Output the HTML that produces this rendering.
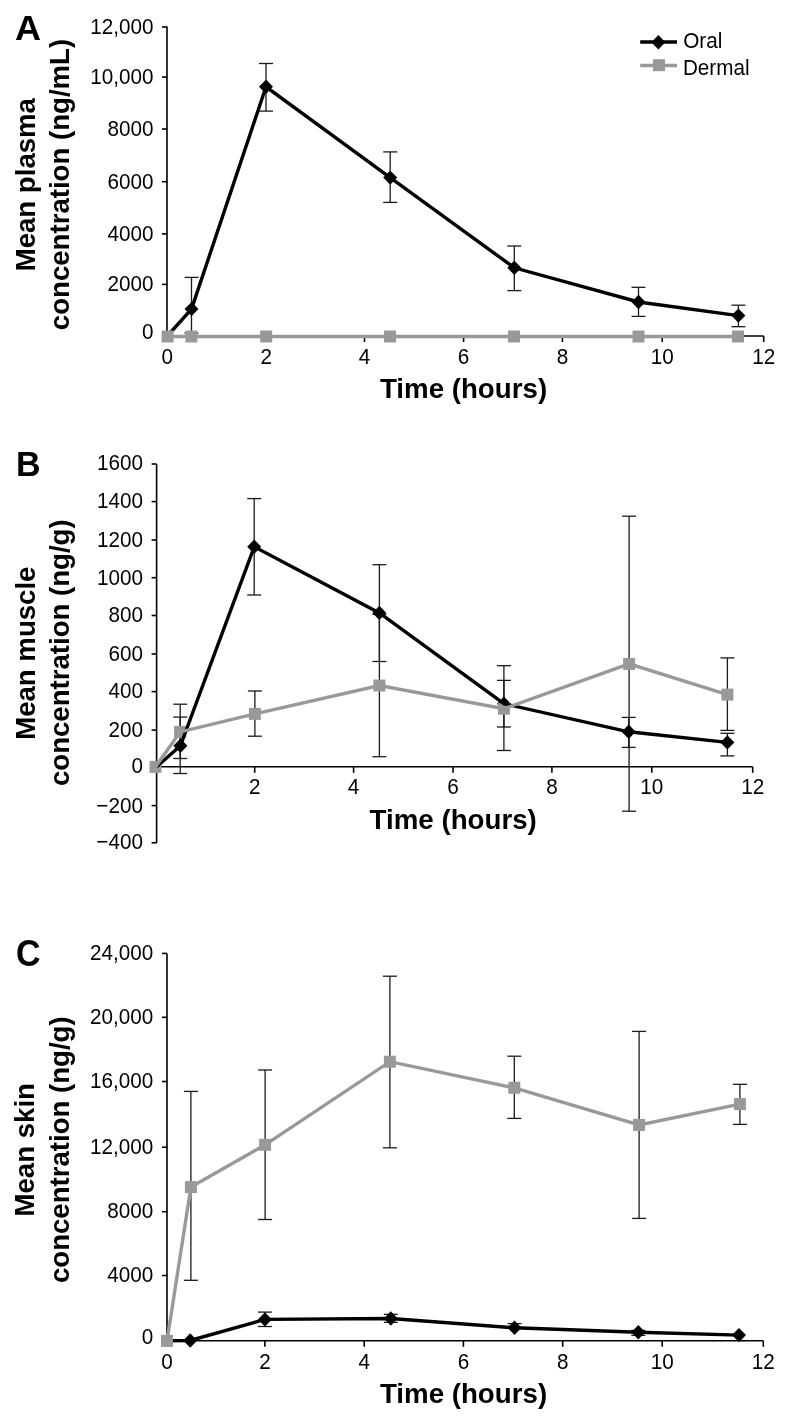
<!DOCTYPE html>
<html><head><meta charset="utf-8"><style>
html,body{margin:0;padding:0;background:#fff;width:789px;height:1424px;overflow:hidden;}
svg{display:block;font-family:"Liberation Sans",sans-serif;will-change:transform;}
</style></head><body>
<svg width="789" height="1424" viewBox="0 0 789 1424">
<rect width="789" height="1424" fill="#fff"/>
<line x1="167" y1="26.5" x2="167" y2="336" stroke="#000" stroke-width="1.6" stroke-linecap="butt"/>
<line x1="162" y1="27" x2="167" y2="27" stroke="#000" stroke-width="1.6" stroke-linecap="butt"/>
<text transform="translate(153.6,33.6) scale(1,1.085)" font-size="20.7" text-anchor="end">12,000</text>
<line x1="162" y1="77.1" x2="167" y2="77.1" stroke="#000" stroke-width="1.6" stroke-linecap="butt"/>
<text transform="translate(153.6,83.6) scale(1,1.085)" font-size="20.7" text-anchor="end">10,000</text>
<line x1="162" y1="129" x2="167" y2="129" stroke="#000" stroke-width="1.6" stroke-linecap="butt"/>
<text transform="translate(153.6,135.8) scale(1,1.085)" font-size="20.7" text-anchor="end">8000</text>
<line x1="162" y1="181.7" x2="167" y2="181.7" stroke="#000" stroke-width="1.6" stroke-linecap="butt"/>
<text transform="translate(153.6,188.5) scale(1,1.085)" font-size="20.7" text-anchor="end">6000</text>
<line x1="162" y1="233.9" x2="167" y2="233.9" stroke="#000" stroke-width="1.6" stroke-linecap="butt"/>
<text transform="translate(153.6,240.7) scale(1,1.085)" font-size="20.7" text-anchor="end">4000</text>
<line x1="162" y1="284.4" x2="167" y2="284.4" stroke="#000" stroke-width="1.6" stroke-linecap="butt"/>
<text transform="translate(153.6,291) scale(1,1.085)" font-size="20.7" text-anchor="end">2000</text>
<text transform="translate(153.6,339.3) scale(1,1.085)" font-size="20.7" text-anchor="end">0</text>
<line x1="167" y1="336" x2="763.7" y2="336" stroke="#000" stroke-width="1.6" stroke-linecap="butt"/>
<text transform="translate(167.3,363.8) scale(1,1.085)" font-size="20.7" text-anchor="middle">0</text>
<line x1="266.2" y1="336" x2="266.2" y2="342" stroke="#000" stroke-width="1.6" stroke-linecap="butt"/>
<text transform="translate(266.2,363.8) scale(1,1.085)" font-size="20.7" text-anchor="middle">2</text>
<line x1="364.5" y1="336" x2="364.5" y2="342" stroke="#000" stroke-width="1.6" stroke-linecap="butt"/>
<text transform="translate(364.5,363.8) scale(1,1.085)" font-size="20.7" text-anchor="middle">4</text>
<line x1="463.6" y1="336" x2="463.6" y2="342" stroke="#000" stroke-width="1.6" stroke-linecap="butt"/>
<text transform="translate(463.6,363.8) scale(1,1.085)" font-size="20.7" text-anchor="middle">6</text>
<line x1="562.4" y1="336" x2="562.4" y2="342" stroke="#000" stroke-width="1.6" stroke-linecap="butt"/>
<text transform="translate(562.4,363.8) scale(1,1.085)" font-size="20.7" text-anchor="middle">8</text>
<line x1="662.2" y1="336" x2="662.2" y2="342" stroke="#000" stroke-width="1.6" stroke-linecap="butt"/>
<text transform="translate(662.2,363.8) scale(1,1.085)" font-size="20.7" text-anchor="middle">10</text>
<line x1="763.7" y1="336" x2="763.7" y2="342" stroke="#000" stroke-width="1.6" stroke-linecap="butt"/>
<text transform="translate(763.7,363.8) scale(1,1.085)" font-size="20.7" text-anchor="middle">12</text>
<line x1="191.5" y1="277.4" x2="191.5" y2="333.2" stroke="#1a1a1a" stroke-width="1.3" stroke-linecap="butt"/>
<line x1="184.5" y1="277.4" x2="198.5" y2="277.4" stroke="#1a1a1a" stroke-width="1.3" stroke-linecap="butt"/>
<line x1="184.5" y1="333.2" x2="198.5" y2="333.2" stroke="#1a1a1a" stroke-width="1.3" stroke-linecap="butt"/>
<line x1="266" y1="63.5" x2="266" y2="111.1" stroke="#1a1a1a" stroke-width="1.3" stroke-linecap="butt"/>
<line x1="259.0" y1="63.5" x2="273.0" y2="63.5" stroke="#1a1a1a" stroke-width="1.3" stroke-linecap="butt"/>
<line x1="259.0" y1="111.1" x2="273.0" y2="111.1" stroke="#1a1a1a" stroke-width="1.3" stroke-linecap="butt"/>
<line x1="390.2" y1="151.9" x2="390.2" y2="202.4" stroke="#1a1a1a" stroke-width="1.3" stroke-linecap="butt"/>
<line x1="383.2" y1="151.9" x2="397.2" y2="151.9" stroke="#1a1a1a" stroke-width="1.3" stroke-linecap="butt"/>
<line x1="383.2" y1="202.4" x2="397.2" y2="202.4" stroke="#1a1a1a" stroke-width="1.3" stroke-linecap="butt"/>
<line x1="514.3" y1="246" x2="514.3" y2="290.6" stroke="#1a1a1a" stroke-width="1.3" stroke-linecap="butt"/>
<line x1="507.29999999999995" y1="246" x2="521.3" y2="246" stroke="#1a1a1a" stroke-width="1.3" stroke-linecap="butt"/>
<line x1="507.29999999999995" y1="290.6" x2="521.3" y2="290.6" stroke="#1a1a1a" stroke-width="1.3" stroke-linecap="butt"/>
<line x1="638.5" y1="287.3" x2="638.5" y2="316.4" stroke="#1a1a1a" stroke-width="1.3" stroke-linecap="butt"/>
<line x1="631.5" y1="287.3" x2="645.5" y2="287.3" stroke="#1a1a1a" stroke-width="1.3" stroke-linecap="butt"/>
<line x1="631.5" y1="316.4" x2="645.5" y2="316.4" stroke="#1a1a1a" stroke-width="1.3" stroke-linecap="butt"/>
<line x1="738.4" y1="305.2" x2="738.4" y2="326.7" stroke="#1a1a1a" stroke-width="1.3" stroke-linecap="butt"/>
<line x1="731.4" y1="305.2" x2="745.4" y2="305.2" stroke="#1a1a1a" stroke-width="1.3" stroke-linecap="butt"/>
<line x1="731.4" y1="326.7" x2="745.4" y2="326.7" stroke="#1a1a1a" stroke-width="1.3" stroke-linecap="butt"/>
<polyline points="167.3,336 191.5,309.1 266,86.8 390.2,177.6 514.3,267.8 638.5,302 738.4,315.6" fill="none" stroke="#000" stroke-width="3.4" stroke-linejoin="miter" stroke-miterlimit="2"/>
<polyline points="167.6,336.5 191.4,336.5 266.2,336.5 390,336.5 514,336.5 638.5,336.5 738,336.5" fill="none" stroke="#999" stroke-width="3.4" stroke-linejoin="miter" stroke-miterlimit="2"/>
<path d="M184.5,309.1L191.5,301.90000000000003L198.5,309.1L191.5,316.3Z" fill="#000"/>
<path d="M259.0,86.8L266,79.6L273.0,86.8L266,94.0Z" fill="#000"/>
<path d="M383.2,177.6L390.2,170.4L397.2,177.6L390.2,184.79999999999998Z" fill="#000"/>
<path d="M507.29999999999995,267.8L514.3,260.6L521.3,267.8L514.3,275.0Z" fill="#000"/>
<path d="M631.5,302L638.5,294.8L645.5,302L638.5,309.2Z" fill="#000"/>
<path d="M731.4,315.6L738.4,308.40000000000003L745.4,315.6L738.4,322.8Z" fill="#000"/>
<rect x="161.60" y="330.50" width="12" height="12" fill="#999"/>
<rect x="185.40" y="330.50" width="12" height="12" fill="#999"/>
<rect x="260.20" y="330.50" width="12" height="12" fill="#999"/>
<rect x="384.00" y="330.50" width="12" height="12" fill="#999"/>
<rect x="508.00" y="330.50" width="12" height="12" fill="#999"/>
<rect x="632.50" y="330.50" width="12" height="12" fill="#999"/>
<rect x="732.00" y="330.50" width="12" height="12" fill="#999"/>
<text transform="translate(34.5,184.7) rotate(-90)" font-size="27.6" font-weight="bold" text-anchor="middle">Mean plasma</text>
<text transform="translate(68.8,184.5) rotate(-90)" font-size="27.6" font-weight="bold" text-anchor="middle">concentration (ng/mL)</text>
<text transform="translate(463.5,398) scale(1,1.01)" font-size="27.7" text-anchor="middle" font-weight="bold">Time (hours)</text>
<text transform="translate(15.0,39.5) scale(1,0.975)" font-size="36" text-anchor="start" font-weight="bold">A</text>
<line x1="156.6" y1="464" x2="156.6" y2="843" stroke="#000" stroke-width="1.6" stroke-linecap="butt"/>
<line x1="151.6" y1="464" x2="156.6" y2="464" stroke="#000" stroke-width="1.6" stroke-linecap="butt"/>
<text transform="translate(142.9,470.0) scale(1,1.085)" font-size="20.7" text-anchor="end">1600</text>
<line x1="151.6" y1="501.6" x2="156.6" y2="501.6" stroke="#000" stroke-width="1.6" stroke-linecap="butt"/>
<text transform="translate(142.9,508.4) scale(1,1.085)" font-size="20.7" text-anchor="end">1400</text>
<line x1="151.6" y1="540" x2="156.6" y2="540" stroke="#000" stroke-width="1.6" stroke-linecap="butt"/>
<text transform="translate(142.9,546.8) scale(1,1.085)" font-size="20.7" text-anchor="end">1200</text>
<line x1="151.6" y1="577.7" x2="156.6" y2="577.7" stroke="#000" stroke-width="1.6" stroke-linecap="butt"/>
<text transform="translate(142.9,584.5) scale(1,1.085)" font-size="20.7" text-anchor="end">1000</text>
<line x1="151.6" y1="615.5" x2="156.6" y2="615.5" stroke="#000" stroke-width="1.6" stroke-linecap="butt"/>
<text transform="translate(142.9,622.3) scale(1,1.085)" font-size="20.7" text-anchor="end">800</text>
<line x1="151.6" y1="654" x2="156.6" y2="654" stroke="#000" stroke-width="1.6" stroke-linecap="butt"/>
<text transform="translate(142.9,660.8) scale(1,1.085)" font-size="20.7" text-anchor="end">600</text>
<line x1="151.6" y1="691.6" x2="156.6" y2="691.6" stroke="#000" stroke-width="1.6" stroke-linecap="butt"/>
<text transform="translate(142.9,698.4) scale(1,1.085)" font-size="20.7" text-anchor="end">400</text>
<line x1="151.6" y1="730.1" x2="156.6" y2="730.1" stroke="#000" stroke-width="1.6" stroke-linecap="butt"/>
<text transform="translate(142.9,736.9) scale(1,1.085)" font-size="20.7" text-anchor="end">200</text>
<line x1="151.6" y1="766.8" x2="156.6" y2="766.8" stroke="#000" stroke-width="1.6" stroke-linecap="butt"/>
<text transform="translate(142.9,772.8) scale(1,1.085)" font-size="20.7" text-anchor="end">0</text>
<line x1="151.6" y1="805.6" x2="156.6" y2="805.6" stroke="#000" stroke-width="1.6" stroke-linecap="butt"/>
<text transform="translate(142.9,812.7) scale(1,1.085)" font-size="20.7" text-anchor="end">−200</text>
<line x1="151.6" y1="842.8" x2="156.6" y2="842.8" stroke="#000" stroke-width="1.6" stroke-linecap="butt"/>
<text transform="translate(142.9,848.5) scale(1,1.085)" font-size="20.7" text-anchor="end">−400</text>
<line x1="156.6" y1="766.8" x2="752.7" y2="766.8" stroke="#000" stroke-width="1.6" stroke-linecap="butt"/>
<line x1="254.7" y1="766.8" x2="254.7" y2="772.8" stroke="#000" stroke-width="1.6" stroke-linecap="butt"/>
<text transform="translate(254.7,793.8) scale(1,1.085)" font-size="20.7" text-anchor="middle">2</text>
<line x1="353.6" y1="766.8" x2="353.6" y2="772.8" stroke="#000" stroke-width="1.6" stroke-linecap="butt"/>
<text transform="translate(353.6,793.8) scale(1,1.085)" font-size="20.7" text-anchor="middle">4</text>
<line x1="453" y1="766.8" x2="453" y2="772.8" stroke="#000" stroke-width="1.6" stroke-linecap="butt"/>
<text transform="translate(453,793.8) scale(1,1.085)" font-size="20.7" text-anchor="middle">6</text>
<line x1="551.9" y1="766.8" x2="551.9" y2="772.8" stroke="#000" stroke-width="1.6" stroke-linecap="butt"/>
<text transform="translate(551.9,793.8) scale(1,1.085)" font-size="20.7" text-anchor="middle">8</text>
<line x1="651.8" y1="766.8" x2="651.8" y2="772.8" stroke="#000" stroke-width="1.6" stroke-linecap="butt"/>
<text transform="translate(651.8,793.8) scale(1,1.085)" font-size="20.7" text-anchor="middle">10</text>
<line x1="752.7" y1="766.8" x2="752.7" y2="772.8" stroke="#000" stroke-width="1.6" stroke-linecap="butt"/>
<text transform="translate(752.7,793.8) scale(1,1.085)" font-size="20.7" text-anchor="middle">12</text>
<line x1="180.2" y1="717.1" x2="180.2" y2="773.5" stroke="#1a1a1a" stroke-width="1.3" stroke-linecap="butt"/>
<line x1="173.2" y1="717.1" x2="187.2" y2="717.1" stroke="#1a1a1a" stroke-width="1.3" stroke-linecap="butt"/>
<line x1="173.2" y1="773.5" x2="187.2" y2="773.5" stroke="#1a1a1a" stroke-width="1.3" stroke-linecap="butt"/>
<line x1="254.2" y1="498.6" x2="254.2" y2="595" stroke="#1a1a1a" stroke-width="1.3" stroke-linecap="butt"/>
<line x1="247.2" y1="498.6" x2="261.2" y2="498.6" stroke="#1a1a1a" stroke-width="1.3" stroke-linecap="butt"/>
<line x1="247.2" y1="595" x2="261.2" y2="595" stroke="#1a1a1a" stroke-width="1.3" stroke-linecap="butt"/>
<line x1="379.4" y1="564.7" x2="379.4" y2="661.5" stroke="#1a1a1a" stroke-width="1.3" stroke-linecap="butt"/>
<line x1="372.4" y1="564.7" x2="386.4" y2="564.7" stroke="#1a1a1a" stroke-width="1.3" stroke-linecap="butt"/>
<line x1="372.4" y1="661.5" x2="386.4" y2="661.5" stroke="#1a1a1a" stroke-width="1.3" stroke-linecap="butt"/>
<line x1="503.9" y1="680.4" x2="503.9" y2="727" stroke="#1a1a1a" stroke-width="1.3" stroke-linecap="butt"/>
<line x1="496.9" y1="680.4" x2="510.9" y2="680.4" stroke="#1a1a1a" stroke-width="1.3" stroke-linecap="butt"/>
<line x1="496.9" y1="727" x2="510.9" y2="727" stroke="#1a1a1a" stroke-width="1.3" stroke-linecap="butt"/>
<line x1="628.7" y1="717.4" x2="628.7" y2="747.4" stroke="#1a1a1a" stroke-width="1.3" stroke-linecap="butt"/>
<line x1="621.7" y1="717.4" x2="635.7" y2="717.4" stroke="#1a1a1a" stroke-width="1.3" stroke-linecap="butt"/>
<line x1="621.7" y1="747.4" x2="635.7" y2="747.4" stroke="#1a1a1a" stroke-width="1.3" stroke-linecap="butt"/>
<line x1="727.4" y1="733.3" x2="727.4" y2="755.9" stroke="#1a1a1a" stroke-width="1.3" stroke-linecap="butt"/>
<line x1="720.4" y1="733.3" x2="734.4" y2="733.3" stroke="#1a1a1a" stroke-width="1.3" stroke-linecap="butt"/>
<line x1="720.4" y1="755.9" x2="734.4" y2="755.9" stroke="#1a1a1a" stroke-width="1.3" stroke-linecap="butt"/>
<line x1="180.2" y1="704.2" x2="180.2" y2="758.5" stroke="#1a1a1a" stroke-width="1.3" stroke-linecap="butt"/>
<line x1="173.2" y1="704.2" x2="187.2" y2="704.2" stroke="#1a1a1a" stroke-width="1.3" stroke-linecap="butt"/>
<line x1="173.2" y1="758.5" x2="187.2" y2="758.5" stroke="#1a1a1a" stroke-width="1.3" stroke-linecap="butt"/>
<line x1="254.9" y1="691" x2="254.9" y2="736.2" stroke="#1a1a1a" stroke-width="1.3" stroke-linecap="butt"/>
<line x1="247.9" y1="691" x2="261.9" y2="691" stroke="#1a1a1a" stroke-width="1.3" stroke-linecap="butt"/>
<line x1="247.9" y1="736.2" x2="261.9" y2="736.2" stroke="#1a1a1a" stroke-width="1.3" stroke-linecap="butt"/>
<line x1="379.4" y1="614.3" x2="379.4" y2="756.7" stroke="#1a1a1a" stroke-width="1.3" stroke-linecap="butt"/>
<line x1="372.4" y1="614.3" x2="386.4" y2="614.3" stroke="#1a1a1a" stroke-width="1.3" stroke-linecap="butt"/>
<line x1="372.4" y1="756.7" x2="386.4" y2="756.7" stroke="#1a1a1a" stroke-width="1.3" stroke-linecap="butt"/>
<line x1="503.9" y1="665.7" x2="503.9" y2="750.5" stroke="#1a1a1a" stroke-width="1.3" stroke-linecap="butt"/>
<line x1="496.9" y1="665.7" x2="510.9" y2="665.7" stroke="#1a1a1a" stroke-width="1.3" stroke-linecap="butt"/>
<line x1="496.9" y1="750.5" x2="510.9" y2="750.5" stroke="#1a1a1a" stroke-width="1.3" stroke-linecap="butt"/>
<line x1="629.1" y1="516.2" x2="629.1" y2="811.2" stroke="#1a1a1a" stroke-width="1.3" stroke-linecap="butt"/>
<line x1="622.1" y1="516.2" x2="636.1" y2="516.2" stroke="#1a1a1a" stroke-width="1.3" stroke-linecap="butt"/>
<line x1="622.1" y1="811.2" x2="636.1" y2="811.2" stroke="#1a1a1a" stroke-width="1.3" stroke-linecap="butt"/>
<line x1="727.4" y1="657.9" x2="727.4" y2="730.4" stroke="#1a1a1a" stroke-width="1.3" stroke-linecap="butt"/>
<line x1="720.4" y1="657.9" x2="734.4" y2="657.9" stroke="#1a1a1a" stroke-width="1.3" stroke-linecap="butt"/>
<line x1="720.4" y1="730.4" x2="734.4" y2="730.4" stroke="#1a1a1a" stroke-width="1.3" stroke-linecap="butt"/>
<path d="M173.4,745.8L180.4,738.5999999999999L187.4,745.8L180.4,753.0Z" fill="#000"/>
<path d="M247.2,546.8L254.2,539.5999999999999L261.2,546.8L254.2,554.0Z" fill="#000"/>
<path d="M372.4,612.9L379.4,605.6999999999999L386.4,612.9L379.4,620.1Z" fill="#000"/>
<path d="M496.9,703.7L503.9,696.5L510.9,703.7L503.9,710.9000000000001Z" fill="#000"/>
<path d="M621.7,731.8L628.7,724.5999999999999L635.7,731.8L628.7,739.0Z" fill="#000"/>
<path d="M720.4,742.4L727.4,735.1999999999999L734.4,742.4L727.4,749.6Z" fill="#000"/>
<rect x="149.50" y="760.90" width="12" height="12" fill="#999"/>
<rect x="174.10" y="725.90" width="12" height="12" fill="#999"/>
<rect x="248.90" y="707.90" width="12" height="12" fill="#999"/>
<rect x="373.40" y="679.50" width="12" height="12" fill="#999"/>
<rect x="497.90" y="702.70" width="12" height="12" fill="#999"/>
<rect x="623.10" y="657.90" width="12" height="12" fill="#999"/>
<rect x="721.40" y="688.60" width="12" height="12" fill="#999"/>
<polyline points="156.6,766.8 180.4,745.8 254.2,546.8 379.4,612.9 503.9,703.7 628.7,731.8 727.4,742.4" fill="none" stroke="#000" stroke-width="3.4" stroke-linejoin="miter" stroke-miterlimit="2"/>
<polyline points="155.5,766.9 180.1,731.9 254.9,713.9 379.4,685.5 503.9,708.7 629.1,663.9 727.4,694.6" fill="none" stroke="#999" stroke-width="3.4" stroke-linejoin="miter" stroke-miterlimit="2"/>
<text transform="translate(34.5,653.2) rotate(-90)" font-size="27.6" font-weight="bold" text-anchor="middle">Mean muscle</text>
<text transform="translate(68.9,652.7) rotate(-90)" font-size="27.6" font-weight="bold" text-anchor="middle">concentration (ng/g)</text>
<text transform="translate(453.2,828.5) scale(1,1.01)" font-size="27.7" text-anchor="middle" font-weight="bold">Time (hours)</text>
<text transform="translate(16,476) scale(1,1.055)" font-size="34" text-anchor="start" font-weight="bold">B</text>
<line x1="167" y1="953.4" x2="167" y2="1340.8" stroke="#000" stroke-width="1.6" stroke-linecap="butt"/>
<line x1="162" y1="953.4" x2="167" y2="953.4" stroke="#000" stroke-width="1.6" stroke-linecap="butt"/>
<text transform="translate(153.2,959.9) scale(1,1.085)" font-size="20.7" text-anchor="end">24,000</text>
<line x1="162" y1="1017.3" x2="167" y2="1017.3" stroke="#000" stroke-width="1.6" stroke-linecap="butt"/>
<text transform="translate(153.2,1024) scale(1,1.085)" font-size="20.7" text-anchor="end">20,000</text>
<line x1="162" y1="1081.5" x2="167" y2="1081.5" stroke="#000" stroke-width="1.6" stroke-linecap="butt"/>
<text transform="translate(153.2,1088.0) scale(1,1.085)" font-size="20.7" text-anchor="end">16,000</text>
<line x1="162" y1="1147.2" x2="167" y2="1147.2" stroke="#000" stroke-width="1.6" stroke-linecap="butt"/>
<text transform="translate(153.2,1153.9) scale(1,1.085)" font-size="20.7" text-anchor="end">12,000</text>
<line x1="162" y1="1211.7" x2="167" y2="1211.7" stroke="#000" stroke-width="1.6" stroke-linecap="butt"/>
<text transform="translate(153.2,1218.4) scale(1,1.085)" font-size="20.7" text-anchor="end">8000</text>
<line x1="162" y1="1275.5" x2="167" y2="1275.5" stroke="#000" stroke-width="1.6" stroke-linecap="butt"/>
<text transform="translate(153.2,1282) scale(1,1.085)" font-size="20.7" text-anchor="end">4000</text>
<text transform="translate(153.2,1344) scale(1,1.085)" font-size="20.7" text-anchor="end">0</text>
<line x1="167" y1="1340.8" x2="763.3" y2="1340.8" stroke="#000" stroke-width="1.6" stroke-linecap="butt"/>
<text transform="translate(167,1368.6) scale(1,1.085)" font-size="20.7" text-anchor="middle">0</text>
<line x1="264.9" y1="1340.8" x2="264.9" y2="1346.8" stroke="#000" stroke-width="1.6" stroke-linecap="butt"/>
<text transform="translate(264.9,1368.6) scale(1,1.085)" font-size="20.7" text-anchor="middle">2</text>
<line x1="364.2" y1="1340.8" x2="364.2" y2="1346.8" stroke="#000" stroke-width="1.6" stroke-linecap="butt"/>
<text transform="translate(364.2,1368.6) scale(1,1.085)" font-size="20.7" text-anchor="middle">4</text>
<line x1="463.4" y1="1340.8" x2="463.4" y2="1346.8" stroke="#000" stroke-width="1.6" stroke-linecap="butt"/>
<text transform="translate(463.4,1368.6) scale(1,1.085)" font-size="20.7" text-anchor="middle">6</text>
<line x1="562.7" y1="1340.8" x2="562.7" y2="1346.8" stroke="#000" stroke-width="1.6" stroke-linecap="butt"/>
<text transform="translate(562.7,1368.6) scale(1,1.085)" font-size="20.7" text-anchor="middle">8</text>
<line x1="662.2" y1="1340.8" x2="662.2" y2="1346.8" stroke="#000" stroke-width="1.6" stroke-linecap="butt"/>
<text transform="translate(662.2,1368.6) scale(1,1.085)" font-size="20.7" text-anchor="middle">10</text>
<line x1="763.3" y1="1340.8" x2="763.3" y2="1346.8" stroke="#000" stroke-width="1.6" stroke-linecap="butt"/>
<text transform="translate(763.3,1368.6) scale(1,1.085)" font-size="20.7" text-anchor="middle">12</text>
<line x1="264.9" y1="1312.1" x2="264.9" y2="1326.5" stroke="#1a1a1a" stroke-width="1.3" stroke-linecap="butt"/>
<line x1="257.9" y1="1312.1" x2="271.9" y2="1312.1" stroke="#1a1a1a" stroke-width="1.3" stroke-linecap="butt"/>
<line x1="257.9" y1="1326.5" x2="271.9" y2="1326.5" stroke="#1a1a1a" stroke-width="1.3" stroke-linecap="butt"/>
<line x1="390.8" y1="1314.3" x2="390.8" y2="1322.3" stroke="#1a1a1a" stroke-width="1.3" stroke-linecap="butt"/>
<line x1="383.8" y1="1314.3" x2="397.8" y2="1314.3" stroke="#1a1a1a" stroke-width="1.3" stroke-linecap="butt"/>
<line x1="383.8" y1="1322.3" x2="397.8" y2="1322.3" stroke="#1a1a1a" stroke-width="1.3" stroke-linecap="butt"/>
<line x1="514.5" y1="1323.6" x2="514.5" y2="1327.8" stroke="#1a1a1a" stroke-width="1.3" stroke-linecap="butt"/>
<line x1="507.5" y1="1323.6" x2="521.5" y2="1323.6" stroke="#1a1a1a" stroke-width="1.3" stroke-linecap="butt"/>
<line x1="638.3" y1="1330.4" x2="638.3" y2="1335.3" stroke="#1a1a1a" stroke-width="1.3" stroke-linecap="butt"/>
<line x1="631.3" y1="1330.4" x2="645.3" y2="1330.4" stroke="#1a1a1a" stroke-width="1.3" stroke-linecap="butt"/>
<line x1="631.3" y1="1335.3" x2="645.3" y2="1335.3" stroke="#1a1a1a" stroke-width="1.3" stroke-linecap="butt"/>
<line x1="190.9" y1="1091.4" x2="190.9" y2="1280.3" stroke="#1a1a1a" stroke-width="1.3" stroke-linecap="butt"/>
<line x1="183.9" y1="1091.4" x2="197.9" y2="1091.4" stroke="#1a1a1a" stroke-width="1.3" stroke-linecap="butt"/>
<line x1="183.9" y1="1280.3" x2="197.9" y2="1280.3" stroke="#1a1a1a" stroke-width="1.3" stroke-linecap="butt"/>
<line x1="265.1" y1="1070" x2="265.1" y2="1219.5" stroke="#1a1a1a" stroke-width="1.3" stroke-linecap="butt"/>
<line x1="258.1" y1="1070" x2="272.1" y2="1070" stroke="#1a1a1a" stroke-width="1.3" stroke-linecap="butt"/>
<line x1="258.1" y1="1219.5" x2="272.1" y2="1219.5" stroke="#1a1a1a" stroke-width="1.3" stroke-linecap="butt"/>
<line x1="389.9" y1="976.2" x2="389.9" y2="1147.8" stroke="#1a1a1a" stroke-width="1.3" stroke-linecap="butt"/>
<line x1="382.9" y1="976.2" x2="396.9" y2="976.2" stroke="#1a1a1a" stroke-width="1.3" stroke-linecap="butt"/>
<line x1="382.9" y1="1147.8" x2="396.9" y2="1147.8" stroke="#1a1a1a" stroke-width="1.3" stroke-linecap="butt"/>
<line x1="514.3" y1="1056.2" x2="514.3" y2="1118.4" stroke="#1a1a1a" stroke-width="1.3" stroke-linecap="butt"/>
<line x1="507.29999999999995" y1="1056.2" x2="521.3" y2="1056.2" stroke="#1a1a1a" stroke-width="1.3" stroke-linecap="butt"/>
<line x1="507.29999999999995" y1="1118.4" x2="521.3" y2="1118.4" stroke="#1a1a1a" stroke-width="1.3" stroke-linecap="butt"/>
<line x1="639.1" y1="1031.4" x2="639.1" y2="1218.4" stroke="#1a1a1a" stroke-width="1.3" stroke-linecap="butt"/>
<line x1="632.1" y1="1031.4" x2="646.1" y2="1031.4" stroke="#1a1a1a" stroke-width="1.3" stroke-linecap="butt"/>
<line x1="632.1" y1="1218.4" x2="646.1" y2="1218.4" stroke="#1a1a1a" stroke-width="1.3" stroke-linecap="butt"/>
<line x1="739.9" y1="1084.3" x2="739.9" y2="1124.4" stroke="#1a1a1a" stroke-width="1.3" stroke-linecap="butt"/>
<line x1="732.9" y1="1084.3" x2="746.9" y2="1084.3" stroke="#1a1a1a" stroke-width="1.3" stroke-linecap="butt"/>
<line x1="732.9" y1="1124.4" x2="746.9" y2="1124.4" stroke="#1a1a1a" stroke-width="1.3" stroke-linecap="butt"/>
<polyline points="167,1340.8 190.2,1340.5 264.9,1319.4 390.8,1318.5 514.5,1327.8 638.3,1332.2 739,1335.1" fill="none" stroke="#000" stroke-width="3.4" stroke-linejoin="miter" stroke-miterlimit="2"/>
<polyline points="167,1340.9 190.9,1187.1 265.1,1144.8 389.9,1061.7 514.3,1087.8 639.1,1124.9 739.9,1104.1" fill="none" stroke="#999" stroke-width="3.4" stroke-linejoin="miter" stroke-miterlimit="2"/>
<path d="M183.2,1340.5L190.2,1333.3L197.2,1340.5L190.2,1347.7Z" fill="#000"/>
<path d="M257.9,1319.4L264.9,1312.2L271.9,1319.4L264.9,1326.6000000000001Z" fill="#000"/>
<path d="M383.8,1318.5L390.8,1311.3L397.8,1318.5L390.8,1325.7Z" fill="#000"/>
<path d="M507.5,1327.8L514.5,1320.6L521.5,1327.8L514.5,1335.0Z" fill="#000"/>
<path d="M631.3,1332.2L638.3,1325.0L645.3,1332.2L638.3,1339.4Z" fill="#000"/>
<path d="M732.0,1335.1L739,1327.8999999999999L746.0,1335.1L739,1342.3Z" fill="#000"/>
<rect x="161.00" y="1334.90" width="12" height="12" fill="#999"/>
<rect x="184.90" y="1181.10" width="12" height="12" fill="#999"/>
<rect x="259.10" y="1138.80" width="12" height="12" fill="#999"/>
<rect x="383.90" y="1055.70" width="12" height="12" fill="#999"/>
<rect x="508.30" y="1081.80" width="12" height="12" fill="#999"/>
<rect x="633.10" y="1118.90" width="12" height="12" fill="#999"/>
<rect x="733.90" y="1098.10" width="12" height="12" fill="#999"/>
<text transform="translate(34.4,1149.8) rotate(-90)" font-size="27.6" font-weight="bold" text-anchor="middle">Mean skin</text>
<text transform="translate(68.9,1149.7) rotate(-90)" font-size="27.6" font-weight="bold" text-anchor="middle">concentration (ng/g)</text>
<text transform="translate(463.5,1402.7) scale(1,1.01)" font-size="27.7" text-anchor="middle" font-weight="bold">Time (hours)</text>
<text transform="translate(16,966.3) scale(1,1.085)" font-size="34" text-anchor="start" font-weight="bold">C</text>
<line x1="640.2" y1="42" x2="677" y2="42" stroke="#000" stroke-width="3.4" stroke-linecap="butt"/>
<path d="M651.4,42.3L658.4,35.099999999999994L665.4,42.3L658.4,49.5Z" fill="#000"/>
<line x1="640.2" y1="65.5" x2="677" y2="65.5" stroke="#999" stroke-width="3.4" stroke-linecap="butt"/>
<rect x="653.00" y="59.20" width="12" height="12" fill="#999"/>
<text transform="translate(683.2,48.4) scale(1,1.03)" font-size="20.7" text-anchor="start">Oral</text>
<text transform="translate(682.9,75.1) scale(1,1.03)" font-size="20.7" text-anchor="start">Dermal</text>
</svg>
</body></html>
